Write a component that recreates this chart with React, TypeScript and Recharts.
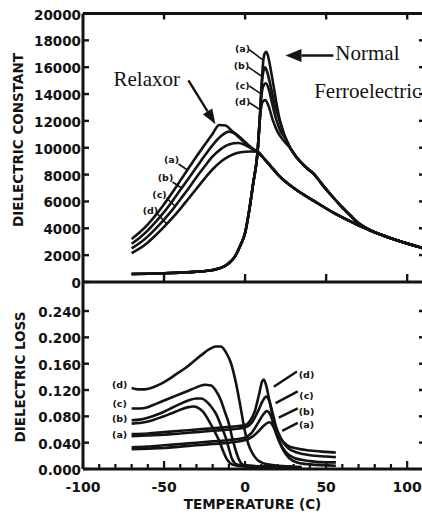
import React from 'react';
import { LineChart, Line, XAxis, YAxis, ReferenceLine, ReferenceDot } from 'recharts';

type Pair = [number, number];

// ---------- dielectric constant vs temperature (°C) ----------
// relaxor, curves (a)-(d): rising side and peak, up to the point where they join
const relaxorConstA: Pair[] = [[-70, 3200], [-65, 3700], [-60, 4300], [-55, 5000], [-50, 5800], [-45, 6650], [-40, 7550], [-35, 8450], [-30, 9350], [-25, 10200], [-20, 11050], [-16, 11700], [-12, 11650], [-8, 11250], [-4, 10800], [0, 10350], [4, 9950], [7.7, 9700]];
const relaxorConstB: Pair[] = [[-70, 2850], [-65, 3300], [-60, 3850], [-55, 4500], [-50, 5200], [-45, 6000], [-40, 6850], [-35, 7700], [-30, 8550], [-25, 9400], [-20, 10200], [-15, 10850], [-10, 11200], [-6, 11050], [-2, 10650], [2, 10200], [5, 9900], [7.7, 9700]];
const relaxorConstC: Pair[] = [[-70, 2500], [-65, 2900], [-60, 3400], [-55, 4000], [-50, 4650], [-45, 5350], [-40, 6150], [-35, 6950], [-30, 7800], [-25, 8600], [-20, 9350], [-15, 9900], [-10, 10250], [-4, 10350], [0, 10200], [4, 9950], [7.7, 9700]];
const relaxorConstD: Pair[] = [[-70, 2150], [-65, 2500], [-60, 2950], [-55, 3500], [-50, 4100], [-45, 4750], [-40, 5450], [-35, 6200], [-30, 6950], [-25, 7700], [-20, 8400], [-15, 8950], [-10, 9350], [-5, 9600], [0, 9700], [4, 9720], [7.7, 9700]];
// shared high-temperature side of the relaxor curves
const relaxorConstTail: Pair[] = [[12, 9150], [16, 8600], [21.5, 7850], [30, 7000], [43, 6000], [55, 5130], [68.7, 4300], [75, 3960]];
// far tail shared by every curve of the upper panel
const sharedConstTail: Pair[] = [[80, 3700], [90, 3260], [100, 2860], [111, 2480]];

// normal ferroelectric: common low-temperature rise
const normalConstRise: Pair[] = [[-70, 600], [-60, 620], [-50, 650], [-40, 700], [-30, 770], [-20, 900], [-15, 1050], [-10, 1400], [-6, 1950], [-3, 2700], [0, 3650], [2.5, 5300], [5, 7350], [7.7, 9700], [9, 12000]];
// curve (a): sharp peak and Curie-Weiss-like decay
const normalConstPeakA: Pair[] = [[10, 14200], [11, 16200], [12, 17000], [13, 17150], [14, 16900], [16, 15700], [18, 14300], [20, 12900], [22, 11750], [25, 10700], [28, 9950], [32, 9250], [37, 8600], [42.4, 8050], [48, 7200], [54, 6350], [60, 5550], [65, 4950], [69.3, 4450], [75, 3990]];
// curves (b)-(d): lower peaks that rejoin curve (a)
const normalConstPeakB: Pair[] = [[10.3, 14800], [11.3, 15700], [12.3, 16000], [13.5, 15700], [15, 15000], [17, 13900], [19, 12900], [21, 12150], [22.5, 11600]];
const normalConstPeakC: Pair[] = [[10, 13800], [11.3, 14600], [12.8, 14800], [14.5, 14400], [16.5, 13400], [19, 12200], [22, 11200], [25, 10700]];
const normalConstPeakD: Pair[] = [[9.8, 12900], [11, 13450], [12.5, 13550], [14.5, 13100], [17, 12100], [20, 11200], [24, 10500], [28, 9950]];

// ---------- dielectric loss vs temperature (°C) ----------
const relaxorLossA: Pair[] = [[-70, 0.069], [-65, 0.070], [-60, 0.072], [-55, 0.076], [-50, 0.080], [-45, 0.085], [-40, 0.090], [-35, 0.094], [-32, 0.095], [-29, 0.093], [-26, 0.087], [-22.5, 0.074], [-19, 0.058], [-16, 0.043], [-13.5, 0.027], [-11, 0.014], [-8, 0.007], [0, 0.004], [30, 0.003]];
const relaxorLossB: Pair[] = [[-70, 0.074], [-65, 0.075], [-60, 0.078], [-55, 0.082], [-50, 0.087], [-45, 0.093], [-40, 0.099], [-35, 0.104], [-30, 0.107], [-27, 0.107], [-24, 0.103], [-21, 0.095], [-18, 0.084], [-15, 0.067], [-12, 0.048], [-10, 0.031], [-8, 0.015], [-5, 0.007], [5, 0.004], [30, 0.003]];
const relaxorLossC: Pair[] = [[-70, 0.092], [-65, 0.092], [-60, 0.094], [-55, 0.099], [-50, 0.104], [-45, 0.109], [-40, 0.114], [-35, 0.119], [-30, 0.124], [-25, 0.128], [-21, 0.127], [-18, 0.119], [-15, 0.105], [-12.5, 0.087], [-10, 0.069], [-8, 0.048], [-6, 0.030], [-3.5, 0.013], [-1, 0.006], [10, 0.004], [30, 0.003]];
const relaxorLossD: Pair[] = [[-70, 0.123], [-66, 0.121], [-62, 0.121], [-58, 0.123], [-54, 0.127], [-50, 0.132], [-46, 0.138], [-42, 0.145], [-37, 0.153], [-32, 0.163], [-27, 0.173], [-22, 0.182], [-18, 0.186], [-15, 0.186], [-12, 0.178], [-9, 0.163], [-6, 0.135], [-3, 0.097], [0, 0.056], [2, 0.038], [4.5, 0.024], [8, 0.013], [14, 0.007], [25, 0.004], [35, 0.003]];

const normalLossA: Pair[] = [[-70, 0.030], [-60, 0.031], [-50, 0.032], [-40, 0.034], [-30, 0.036], [-20, 0.038], [-10, 0.040], [0, 0.044], [5, 0.050], [9, 0.059], [12, 0.067], [15, 0.071], [17.5, 0.064], [20, 0.048], [23, 0.031], [27, 0.017], [32, 0.010], [40, 0.007], [56, 0.005]];
const normalLossB: Pair[] = [[-70, 0.033], [-60, 0.034], [-50, 0.036], [-40, 0.038], [-30, 0.040], [-20, 0.042], [-10, 0.044], [0, 0.048], [4, 0.055], [8, 0.070], [11, 0.082], [13.5, 0.088], [16, 0.080], [18, 0.064], [21, 0.043], [25, 0.026], [30, 0.017], [40, 0.012], [50, 0.010], [56, 0.010]];
const normalLossC: Pair[] = [[-70, 0.050], [-60, 0.051], [-50, 0.052], [-40, 0.054], [-30, 0.056], [-20, 0.058], [-10, 0.060], [0, 0.063], [4, 0.070], [8, 0.088], [11, 0.104], [13, 0.110], [15, 0.103], [17, 0.085], [19, 0.065], [22, 0.047], [26, 0.033], [32, 0.025], [40, 0.021], [50, 0.019], [56, 0.018]];
const normalLossD: Pair[] = [[-70, 0.053], [-60, 0.054], [-50, 0.056], [-40, 0.058], [-30, 0.060], [-20, 0.062], [-10, 0.064], [0, 0.067], [3, 0.073], [6, 0.088], [8.5, 0.112], [10.5, 0.133], [11.5, 0.136], [13, 0.127], [15, 0.104], [17, 0.080], [19, 0.061], [22, 0.046], [26, 0.036], [32, 0.031], [40, 0.028], [50, 0.026], [56, 0.025]];

// ---------- axes ----------
const tempDomain: [number, number] = [-100, 111];
const constDomain: [number, number] = [0, 20000];
const lossDomain: [number, number] = [0, 0.2841];
const tempMajorTicks = [-50, 0, 50, 100];
const tempAllTicks = [-100, -90, -80, -70, -60, -50, -40, -30, -20, -10, 0, 10, 20, 30, 40, 50, 60, 70, 80, 90, 100, 110];
const constTicks = [2000, 4000, 6000, 8000, 10000, 12000, 14000, 16000, 18000];
const constLabelTicks = [0, 2000, 4000, 6000, 8000, 10000, 12000, 14000, 16000, 18000, 20000];
const lossTicks = [0.04, 0.08, 0.12, 0.16, 0.2, 0.24];
const lossLabelTicks = [0, 0.04, 0.08, 0.12, 0.16, 0.2, 0.24];

// ---------- curve labels ----------
const curveNames = ['(a)', '(b)', '(c)', '(d)'];
const relaxorConstLabelAt: Pair[] = [[-45.4, 9090], [-49.1, 7750], [-52.8, 6550], [-58.4, 5360]];
const relaxorConstLeaders: [Pair, Pair][] = [[[-41.1, 8790], [-35.5, 8340]], [[-44.8, 7450], [-39.2, 7000]], [[-48.5, 6260], [-43.6, 5700]], [[-54, 5065], [-48.5, 4350]]];
const normalConstLabelAt: Pair[] = [[-1.6, 17430], [-2.2, 16090], [-1.6, 14670], [-1.6, 13410]];
const normalConstLeaders: [Pair, Pair][] = [[[2.6, 17300], [11.3, 16500]], [[2, 16000], [10.6, 15300]], [[2.6, 14600], [10.1, 14000]], [[2.6, 13350], [9.7, 12800]]];
const relaxorLossLabelAt: Pair[] = [[-77.4, 0.052], [-77.4, 0.077], [-77.4, 0.100], [-77.4, 0.128]];
const normalLossLabelAt: Pair[] = [[37.9, 0.067], [37.9, 0.088], [37.9, 0.112], [37.9, 0.143]];
const normalLossLeaders: [Pair, Pair][] = [[[22.9, 0.058], [32.5, 0.070]], [[20.8, 0.078], [32.5, 0.092]], [[18.8, 0.100], [32.5, 0.118]], [[17.7, 0.125], [32, 0.148]]];

const INK = '#131313';
const TICK_FONT = "'DejaVu Sans', sans-serif";
const SERIF = "'Liberation Serif', 'Times New Roman', serif";
const CHART_W = 440;
const axisLine = { stroke: INK, strokeWidth: 3 };

// lengths of the unlabelled frame ticks, in axis units
const CONST_TOP_TICK = 450;
const CONST_BOTTOM_TICK = 600;
const LOSS_SKEW = 0.0001;
const CONST_SKEW = 8;
const TEMP_SIDE_TICK = 3.7;
const TEMP_SKEW = 0.05;

const rows = (pts: Pair[]) => pts.map(([t, v]) => ({ t, v }));

const fmtLoss = (v: number) => v.toFixed(3);
const fmtConst = (v: number) => String(v);

const LeftTick = (p: any, fmt: (v: number) => string) => (
  <g key={`lt-${p.payload.value}`}>
    <line x1={p.x} x2={p.x + 6} y1={p.y} y2={p.y} stroke={INK} strokeWidth={2.4} />
    <text x={p.x - 2} y={p.y + 1} textAnchor="end" dominantBaseline="central" fontFamily={TICK_FONT} fontWeight={700} fontSize={13.5} fill={INK}>
      {fmt(p.payload.value)}
    </text>
  </g>
);

const TempTick = (p: any) => {
  const v = p.payload.value as number;
  const major = v % 50 === 0;
  return (
    <g key={`tt-${v}`}>
      <line x1={p.x} x2={p.x} y1={p.y} y2={p.y - (major ? 8 : 5)} stroke={INK} strokeWidth={2.2} />
      {major && (
        <text x={p.x} y={p.y + 18} textAnchor="middle" dominantBaseline="central" fontFamily={TICK_FONT} fontWeight={700} fontSize={14} fill={INK}>
          {v}
        </text>
      )}
    </g>
  );
};

const smallLabel = (text: string) => (p: any) => (
  <text x={p.cx} y={p.cy} textAnchor="middle" dominantBaseline="central" fontFamily={TICK_FONT} fontWeight={700} fontSize={9.5} fill={INK}>
    {text}
  </text>
);

const serifText = (text: string) => (p: any) => (
  <text x={p.cx} y={p.cy} textAnchor="start" fontFamily={SERIF} fontSize={21} fill={INK}>
    {text}
  </text>
);

// arrow whose tip sits on the reference point; tail is offset by (dx, dy) pixels
const arrow = (dx: number, dy: number, head: number, half: number) => (p: any) => {
  const len = Math.hypot(dx, dy);
  const ux = -dx / len;
  const uy = -dy / len;
  const bx = p.cx - ux * head;
  const by = p.cy - uy * head;
  const px = -uy;
  const py = ux;
  return (
    <g>
      <line x1={p.cx + dx} y1={p.cy + dy} x2={bx} y2={by} stroke={INK} strokeWidth={2.4} />
      <polygon points={`${p.cx},${p.cy} ${bx + px * half},${by + py * half} ${bx - px * half},${by - py * half}`} fill={INK} />
    </g>
  );
};

const curve = (key: string, pts: Pair[]) => (
  <Line
    key={key}
    xAxisId="b"
    yAxisId="l"
    data={rows(pts)}
    dataKey="v"
    type="monotone"
    stroke={INK}
    strokeWidth={2.6}
    dot={false}
    activeDot={false}
    isAnimationActive={false}
    strokeLinejoin="round"
  />
);

const segment = (key: string, seg: [Pair, Pair], w = 1.6) => (
  <ReferenceLine
    key={key}
    xAxisId="b"
    yAxisId="l"
    segment={[{ x: seg[0][0], y: seg[0][1] }, { x: seg[1][0], y: seg[1][1] }]}
    stroke={INK}
    strokeWidth={w}
    ifOverflow="visible"
  />
);

const tag = (key: string, at: Pair, shape: (p: any) => React.ReactElement) => (
  <ReferenceDot key={key} xAxisId="b" yAxisId="l" x={at[0]} y={at[1]} r={0} shape={shape} ifOverflow="visible" />
);

// unlabelled inward frame ticks; each stroke is given a hair of slant so it never has a zero-width box
const verticalTicks = (prefix: string, ticks: number[], from: number, to: number) =>
  ticks.map((t) => segment(`${prefix}${t}`, [[t - TEMP_SKEW, from], [t + TEMP_SKEW, to]], 2.4));
const rightTicks = (prefix: string, ticks: number[], skew: number) =>
  ticks.map((v) => segment(`${prefix}${v}`, [[tempDomain[1], v - skew], [tempDomain[1] - TEMP_SIDE_TICK, v + skew]], 2.4));

function ConstantPanel() {
  const relaxor = [relaxorConstA, relaxorConstB, relaxorConstC, relaxorConstD].map((r) => [...r, ...relaxorConstTail, ...sharedConstTail]);
  const aAfter = (t: number) => normalConstPeakA.filter(([x]) => x > t);
  const normal = [
    [...normalConstRise, ...normalConstPeakA, ...sharedConstTail],
    [...normalConstRise, ...normalConstPeakB, ...aAfter(22.5), ...sharedConstTail],
    [...normalConstRise, ...normalConstPeakC, ...aAfter(25), ...sharedConstTail],
    [...normalConstRise, ...normalConstPeakD, ...aAfter(28), ...sharedConstTail],
  ];
  return (
    <LineChart width={CHART_W} height={300} margin={{ top: 12.5, right: 14, bottom: 17, left: 82 }}>
      <XAxis xAxisId="b" dataKey="t" type="number" domain={tempDomain} allowDataOverflow ticks={tempMajorTicks} interval={0} height={1} tickLine={false} tick={false} axisLine={axisLine} />
      <XAxis xAxisId="t" orientation="top" dataKey="t" type="number" domain={tempDomain} allowDataOverflow ticks={tempMajorTicks} interval={0} height={1} tickLine={false} tick={false} axisLine={axisLine} />
      <YAxis yAxisId="l" type="number" domain={constDomain} allowDataOverflow ticks={constLabelTicks} interval={0} width={1} tickSize={0} tickMargin={0} tickLine={false} axisLine={axisLine} tick={(p: any) => LeftTick(p, fmtConst)} />
      <YAxis yAxisId="r" orientation="right" type="number" domain={constDomain} allowDataOverflow ticks={constLabelTicks} interval={0} width={1} tickLine={false} tick={false} axisLine={axisLine} />

      {verticalTicks('ctop', tempMajorTicks, constDomain[1] - 30, constDomain[1] - CONST_TOP_TICK)}
      {verticalTicks('cbot', tempMajorTicks, constDomain[0] + 30, constDomain[0] + CONST_BOTTOM_TICK)}
      {rightTicks('cr', constTicks, CONST_SKEW)}

      {relaxor.map((r, i) => curve(`rc${i}`, r))}
      {normal.map((r, i) => curve(`nc${i}`, r))}

      {relaxorConstLeaders.map((s, i) => segment(`rcl${i}`, s))}
      {normalConstLeaders.map((s, i) => segment(`ncl${i}`, s))}
      {relaxorConstLabelAt.map((a, i) => tag(`rct${i}`, a, smallLabel(curveNames[i])))}
      {normalConstLabelAt.map((a, i) => tag(`nct${i}`, a, smallLabel(curveNames[i])))}

      {tag('relaxor-text', [-81.2, 14600], serifText('Relaxor'))}
      {tag('relaxor-arrow', [-18.3, 11750], arrow(-27, -44, 15, 5.5))}
      {tag('normal-text', [55.7, 16540], serifText('Normal'))}
      {tag('ferro-text', [42.6, 13700], serifText('Ferroelectric'))}
      {tag('normal-arrow', [24.9, 16870], arrow(48, 0, 16, 6.5))}
    </LineChart>
  );
}

function LossPanel() {
  const relaxor = [relaxorLossA, relaxorLossB, relaxorLossC, relaxorLossD];
  const normal = [normalLossA, normalLossB, normalLossC, normalLossD];
  return (
    <LineChart width={CHART_W} height={519} margin={{ top: 282, right: 14, bottom: 49, left: 82 }}>
      <XAxis xAxisId="b" dataKey="t" type="number" domain={tempDomain} allowDataOverflow ticks={tempAllTicks} interval={0} height={1} tickSize={0} tickMargin={0} tickLine={false} axisLine={axisLine} tick={TempTick} />
      <YAxis yAxisId="l" type="number" domain={lossDomain} allowDataOverflow ticks={lossLabelTicks} interval={0} width={1} tickSize={0} tickMargin={0} tickLine={false} axisLine={axisLine} tick={(p: any) => LeftTick(p, fmtLoss)} />
      <YAxis yAxisId="r" orientation="right" type="number" domain={lossDomain} allowDataOverflow ticks={lossLabelTicks} interval={0} width={1} tickLine={false} tick={false} axisLine={axisLine} />

      {rightTicks('lr', lossTicks, LOSS_SKEW)}

      {relaxor.map((r, i) => curve(`rl${i}`, r))}
      {normal.map((r, i) => curve(`nl${i}`, r))}

      {normalLossLeaders.map((s, i) => segment(`nll${i}`, s, 2.4))}
      {relaxorLossLabelAt.map((a, i) => tag(`rlt${i}`, a, smallLabel(curveNames[i])))}
      {normalLossLabelAt.map((a, i) => tag(`nlt${i}`, a, smallLabel(curveNames[i])))}
    </LineChart>
  );
}

const titleStyle: React.CSSProperties = {
  position: 'absolute',
  fontFamily: TICK_FONT,
  fontWeight: 700,
  fontSize: 13.5,
  color: INK,
  whiteSpace: 'nowrap',
  lineHeight: 1,
};

export default function App() {
  return (
    <div style={{ position: 'absolute', left: 0, top: 0, width: 422, height: 519, overflow: 'hidden', background: '#fff' }}>
      <div style={{ position: 'absolute', left: 0, top: 0 }}>
        <ConstantPanel />
      </div>
      <div style={{ position: 'absolute', left: 0, top: 0 }}>
        <LossPanel />
      </div>
      <div style={{ ...titleStyle, left: 19, top: 140, transform: 'translate(-50%, -50%) rotate(-90deg)' }}>DIELECTRIC CONSTANT</div>
      <div style={{ ...titleStyle, left: 21, top: 376.5, transform: 'translate(-50%, -50%) rotate(-90deg)' }}>DIELECTRIC LOSS</div>
      <div style={{ ...titleStyle, left: 252.5, top: 505, transform: 'translate(-50%, -50%)' }}>TEMPERATURE (C)</div>
    </div>
  );
}
